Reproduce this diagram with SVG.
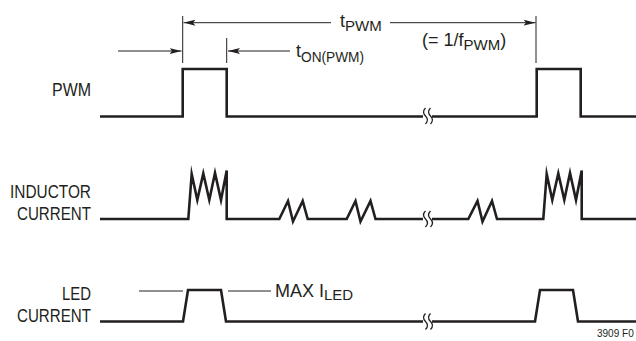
<svg xmlns="http://www.w3.org/2000/svg" width="636" height="341" viewBox="0 0 636 341">
<style>
.wave{fill:none;stroke:#231f20;stroke-width:2.6;stroke-linejoin:miter;stroke-miterlimit:10}
.thin{fill:none;stroke:#231f20;stroke-width:1}
.brk{fill:none;stroke:#231f20;stroke-width:1.3}
text{font-family:"Liberation Sans",Arial,sans-serif;fill:#231f20;font-size:18px}
.sub{font-size:15px}
.r{text-anchor:end}
</style>
<defs>
<marker id="ah" viewBox="0 0 12 6" refX="12" refY="3" markerWidth="12" markerHeight="6" markerUnits="userSpaceOnUse" orient="auto">
<path d="M0,0 L12,3 L0,6 L2.5,3 Z" fill="#231f20"/>
</marker>
</defs>
<rect width="636" height="341" fill="#fff"/>
<g id="labels">
<text id="lbl-pwm" x="91" y="96" class="r" textLength="39" lengthAdjust="spacingAndGlyphs">PWM</text>
<text id="lbl-ind1" x="91" y="197.5" class="r" textLength="81" lengthAdjust="spacingAndGlyphs">INDUCTOR</text>
<text id="lbl-ind2" x="91" y="219.5" class="r" textLength="74" lengthAdjust="spacingAndGlyphs">CURRENT</text>
<text id="lbl-led1" x="91" y="299.5" class="r" textLength="29" lengthAdjust="spacingAndGlyphs">LED</text>
<text id="lbl-led2" x="91" y="321.5" class="r" textLength="74" lengthAdjust="spacingAndGlyphs">CURRENT</text>
</g>
<g id="connectors">
<line class="thin" x1="182.7" y1="16" x2="182.7" y2="63"/>
<line class="thin" x1="226.7" y1="38" x2="226.7" y2="63"/>
<line class="thin" x1="536" y1="16" x2="536" y2="63"/>
<line class="thin" x1="331" y1="22.7" x2="183.5" y2="22.7" marker-end="url(#ah)"/>
<line class="thin" x1="390" y1="22.7" x2="535.5" y2="22.7" marker-end="url(#ah)"/>
<line class="thin" x1="118" y1="51" x2="181.5" y2="51" marker-end="url(#ah)"/>
<line class="thin" x1="290" y1="51" x2="228" y2="51" marker-end="url(#ah)"/>
<line class="thin" x1="139" y1="291" x2="183" y2="291"/>
<line class="thin" x1="228" y1="291" x2="271" y2="291"/>
</g>
<g id="dim-text">
<text x="340" y="27">t<tspan class="sub" dy="4">PWM</tspan></text>
<text x="296" y="57">t<tspan class="sub" dy="4.5" textLength="63" lengthAdjust="spacingAndGlyphs">ON(PWM)</tspan></text>
<text x="422" y="45.5">(= 1/f<tspan class="sub" dy="4.5">PWM</tspan><tspan dy="-4.5">)</tspan></text>
<text x="275" y="296.7">MAX I<tspan class="sub" dy="3">LED</tspan></text>
<text x="597" y="337" style="font-size:10px">3909 F0</text>
</g>
<g id="pwm-wave">
<path class="wave" d="M100,116.5 H182.7 V69 H226.7 V116.5 H423 M432,116.5 H536.7 V69 H580.7 V116.5 H636"/>
<path class="brk" d="M425.5,108 c-3,3 -2,6 0,8 c2,2 3,5 0,8 M430.5,108 c-3,3 -2,6 0,8 c2,2 3,5 0,8"/>
</g>
<g id="inductor-wave">
<path class="wave" d="M100,219 H188.3 L191.7,174 L197.3,200 L203.3,173.5 L209.3,200 L215,173 L221,200 L226.7,170.5 V219 H279.3 L288,201 L293,221.5 L302.7,201 L307.7,219 H346.7 L355.5,201 L360.5,221.5 L370.5,201 L375.5,219 H423 M432,219 H468.3 L477.5,201 L482.5,221.5 L492,201 L497,219 H543.3 L546.7,174 L552.3,200 L558.3,173.5 L564.3,200 L570,173 L576,200 L581.7,170.5 V219 H636"/>
<path class="brk" d="M425.5,211 c-3,3 -2,6 0,8 c2,2 3,5 0,8 M430.5,211 c-3,3 -2,6 0,8 c2,2 3,5 0,8"/>
</g>
<g id="led-wave">
<path class="wave" d="M100,321.5 H183 L188,290 H221 L226,321.5 H423 M432,321.5 H535 L540,290 H573 L578,321.5 H636"/>
<path class="brk" d="M425.5,313.5 c-3,3 -2,6 0,8 c2,2 3,5 0,8 M430.5,313.5 c-3,3 -2,6 0,8 c2,2 3,5 0,8"/>
</g>
</svg>
